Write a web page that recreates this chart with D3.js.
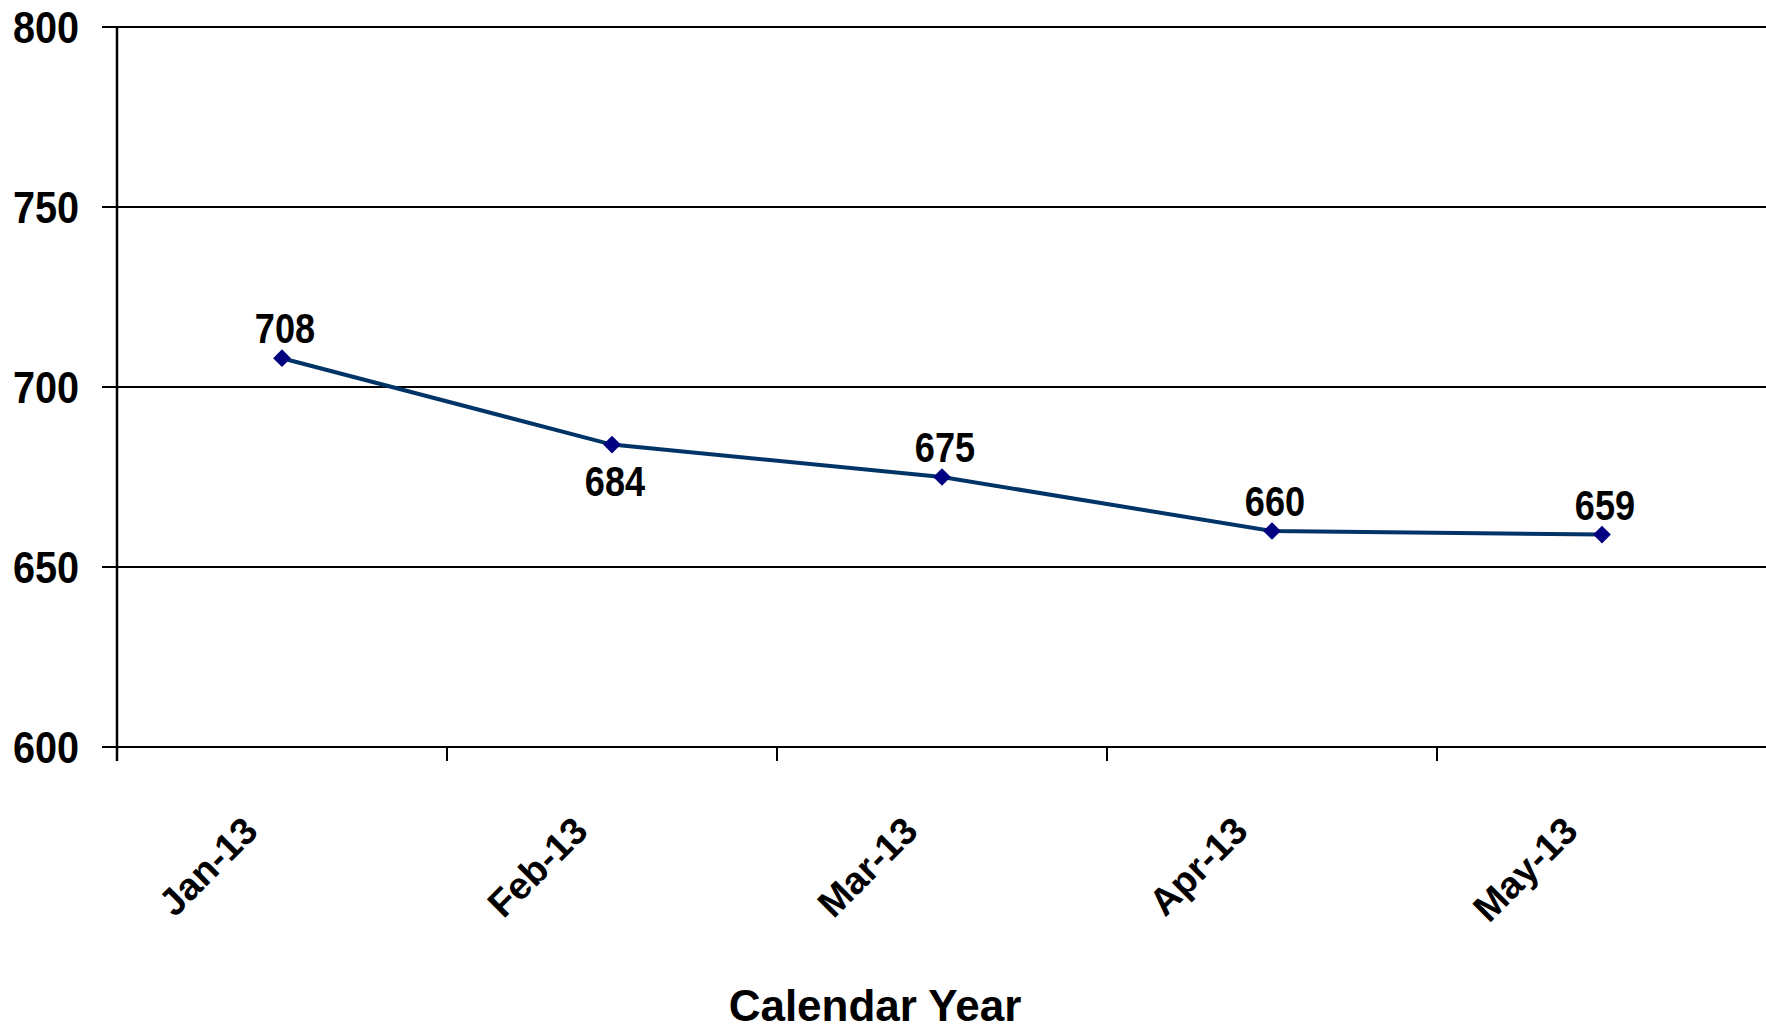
<!DOCTYPE html>
<html>
<head>
<meta charset="utf-8">
<script src="https://cdn.jsdelivr.net/npm/d3@7"></script>
<style>
  html, body { margin: 0; padding: 0; background: #fff; }
  svg { display: block; }
</style>
</head>
<body>
<svg id="chart" width="1766" height="1029"></svg>
<script>
const categories = ["Jan-13", "Feb-13", "Mar-13", "Apr-13", "May-13"];
const values = [708, 684, 675, 660, 659];
const labelPlacement = ["above", "below", "above", "above", "above"];
const yTicks = [600, 650, 700, 750, 800];
const xTitle = "Calendar Year";

const svg = d3.select("#chart");
const W = 1766, H = 1029;
const margin = { left: 117, right: -1, top: 27, bottom: 282 };

const x = d3.scaleBand().domain(categories).range([margin.left, W - margin.right]).paddingInner(0).paddingOuter(0);
const y = d3.scaleLinear().domain([600, 800]).range([H - margin.bottom, margin.top]);

const bold = "'Liberation Sans', Arial, sans-serif";

// gridlines
svg.append("g").selectAll("line").data(yTicks).join("line")
  .attr("x1", margin.left - 15).attr("x2", W)
  .attr("y1", d => y(d)).attr("y2", d => y(d))
  .attr("stroke", "#000").attr("stroke-width", 2);

// y axis line
svg.append("line")
  .attr("x1", margin.left).attr("x2", margin.left)
  .attr("y1", y(800)).attr("y2", y(600) + 14)
  .attr("stroke", "#000").attr("stroke-width", 2.5);

// y tick labels (condensed look via horizontal scale)
svg.append("g").selectAll("text").data(yTicks).join("text")
  .attr("transform", d => `translate(79,${y(d)}) scale(0.9,1)`)
  .attr("dy", "0.36em")
  .attr("text-anchor", "end")
  .style("font-family", bold).style("font-weight", "bold").style("font-size", "44px")
  .text(d => d);

// x ticks (band boundaries)
const boundaries = categories.map(c => x(c));
svg.append("g").selectAll("line").data(boundaries).join("line")
  .attr("x1", d => d).attr("x2", d => d)
  .attr("y1", y(600)).attr("y2", y(600) + 14)
  .attr("stroke", "#000").attr("stroke-width", 2);

// x tick labels
const cx = c => x(c) + x.bandwidth() / 2;
svg.append("g").selectAll("text").data(categories).join("text")
  .attr("transform", c => `translate(${cx(c) - 22},${y(600) + 86}) rotate(-45)`)
  .attr("text-anchor", "end")
  .style("font-family", bold).style("font-weight", "bold").style("font-size", "38px")
  .text(c => c);

// axis title
svg.append("text")
  .attr("x", 875).attr("y", 1021)
  .attr("text-anchor", "middle")
  .style("font-family", bold).style("font-weight", "bold").style("font-size", "44px")
  .text(xTitle);

// line
const pts = categories.map((c, i) => ({ c, v: values[i], pos: labelPlacement[i] }));
svg.append("path")
  .datum(pts)
  .attr("fill", "none")
  .attr("stroke", "#003366")
  .attr("stroke-width", 4)
  .attr("d", d3.line().x(d => cx(d.c)).y(d => y(d.v)));

// markers
svg.append("g").selectAll("path").data(pts).join("path")
  .attr("transform", d => `translate(${cx(d.c)},${y(d.v)})`)
  .attr("d", d3.symbol().type(d3.symbolDiamond2).size(200))
  .attr("fill", "#000080");

// value labels
svg.append("g").selectAll("text").data(pts).join("text")
  .attr("transform", d => `translate(${cx(d.c) + 3},${d.pos === "above" ? y(d.v) - 15 : y(d.v) + 51}) scale(0.86,1)`)
  .attr("text-anchor", "middle")
  .style("font-family", bold).style("font-weight", "bold").style("font-size", "42px")
  .text(d => d.v);
</script>
</body>
</html>
